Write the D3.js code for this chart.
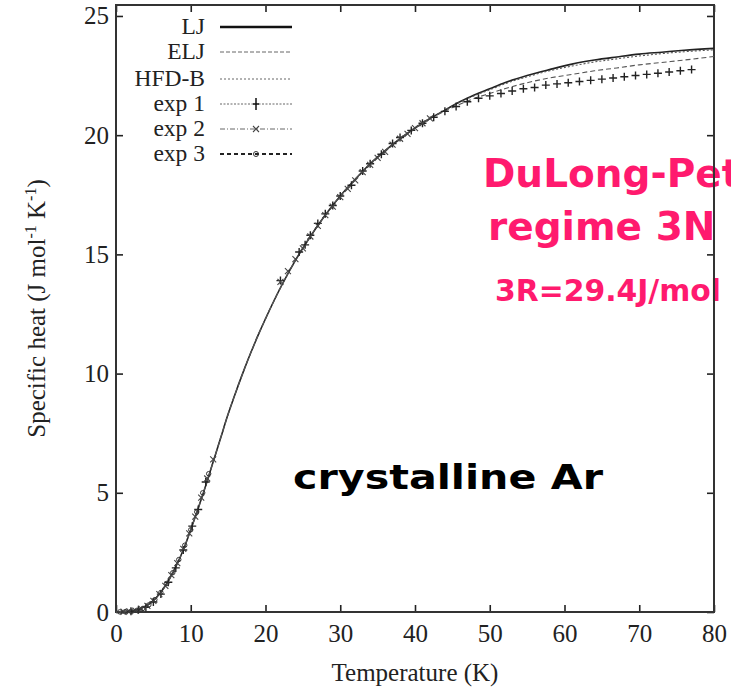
<!DOCTYPE html>
<html><head><meta charset="utf-8">
<script src="https://cdn.jsdelivr.net/npm/d3@7"></script>
<style>html,body{margin:0;padding:0;background:#fff;overflow:hidden}</style>
</head><body>
<svg id="c" width="731" height="690"></svg>
<script>
// ---- data ----
const xTicks = [0,10,20,30,40,50,60,70,80];
const yTicks = [0,5,10,15,20,25];
const theoryT = [0,1,2,3,4,5,6,7,8,9,10,11,12,13,14,15,16,17,18,19,20,22,24,26,28,30,32,34,36,38,40,42,44,46,48,50,52,55,58,61,64,67,70,73,76,80];
const ljC    = [0,0.01,0.04,0.11,0.25,0.48,0.83,1.3,1.9,2.6,3.45,4.35,5.3,6.3,7.3,8.3,9.2,10.05,10.85,11.6,12.3,13.6,14.75,15.75,16.65,17.45,18.15,18.8,19.35,19.85,20.3,20.7,21.05,21.4,21.7,21.95,22.2,22.5,22.75,22.98,23.15,23.28,23.4,23.48,23.56,23.64];
const eljC   = [0,0.01,0.04,0.11,0.25,0.48,0.83,1.3,1.9,2.6,3.45,4.35,5.3,6.3,7.3,8.3,9.2,10.05,10.85,11.6,12.3,13.6,14.75,15.75,16.65,17.45,18.15,18.8,19.35,19.85,20.3,20.7,21.0,21.3,21.55,21.75,21.95,22.2,22.4,22.55,22.7,22.82,22.95,23.05,23.15,23.3];
const hfdC   = [0,0.01,0.04,0.11,0.25,0.48,0.83,1.3,1.9,2.6,3.45,4.35,5.3,6.3,7.3,8.3,9.2,10.05,10.85,11.6,12.3,13.6,14.75,15.75,16.65,17.45,18.15,18.8,19.35,19.85,20.3,20.7,21.05,21.38,21.66,21.9,22.15,22.45,22.7,22.9,23.07,23.2,23.32,23.42,23.5,23.58];
const exp1 = [[2,0.03],[3,0.09],[4,0.2],[5,0.42],[6,0.75],[7,1.25],[8,1.85],[9,2.6],[10.2,3.6],[11,4.3],[12,5.45],[22,13.9],[24.5,15.1],[25.3,15.4],[26,15.8],[27,16.3],[28,16.7],[29,17.05],[30,17.45],[31.5,17.9],[33,18.5],[34,18.8],[35.5,19.2],[37,19.65],[38,19.9],[39.5,20.2],[41,20.5],[42.5,20.75],[44,21.0],[45.5,21.2],[47,21.4],[48.5,21.55],[50,21.65],[51.5,21.75],[53,21.85],[54.5,21.95],[56,22.0],[57.5,22.1],[59,22.15],[60.5,22.2],[62,22.25],[63.5,22.3],[65,22.35],[66.5,22.4],[68,22.45],[69.5,22.5],[71,22.55],[72.5,22.6],[74,22.65],[75.5,22.7],[77,22.75]];
const exp2 = [[1,0.01],[1.8,0.03],[2.6,0.06],[3.4,0.13],[4.2,0.26],[5,0.47],[5.8,0.75],[6.6,1.1],[7.4,1.55],[8.2,2.05],[9,2.65],[9.8,3.3],[10.6,4.0],[11.4,4.8],[12.2,5.6],[13,6.4],[22,13.85],[23,14.3],[24,14.8],[25,15.25],[26,15.75],[27,16.2],[28,16.65],[29,17.0],[30,17.4],[31,17.75],[32,18.1],[33,18.45],[34,18.75],[35,19.05],[36,19.3],[37,19.6],[38,19.85],[39,20.05],[40,20.3],[41,20.5],[42,20.7]];
const exp3 = [[0.5,0.005],[1.2,0.01],[2,0.03],[2.8,0.07],[3.6,0.15],[4.4,0.3],[5.2,0.52],[6,0.82],[6.8,1.2],[7.6,1.65],[8.4,2.2],[9.2,2.8],[10,3.45],[10.8,4.2],[11.6,5.0],[12.4,5.8]];
const legendLabels = ["LJ","ELJ","HFD-B","exp 1","exp 2","exp 3"];

// ---- layout ----
const svg = d3.select("#c");
const L = 116, R = 714, T = 5, B = 612;
const x = d3.scaleLinear().domain([0,80]).range([L,R]);
const y = d3.scaleLinear().domain([0,25.46]).range([B,T]);
const serif = "'Liberation Serif','DejaVu Serif',serif";
const sans = "'DejaVu Sans','Noto Sans',sans-serif";

// annotation texts (under frame)
const pink = "#ff1a6e";
svg.append("text").attr("x",483).attr("y",187).attr("font-family",sans).attr("font-weight","bold")
  .attr("font-size",39).attr("fill",pink).text("DuLong-Pet");
svg.append("text").attr("x",488).attr("y",240).attr("font-family",sans).attr("font-weight","bold")
  .attr("font-size",39).attr("fill",pink).text("regime 3N");
svg.append("text").attr("x",495).attr("y",301).attr("font-family",sans).attr("font-weight","bold")
  .attr("font-size",30).attr("fill",pink).attr("textLength",226).attr("lengthAdjust","spacingAndGlyphs").text("3R=29.4J/mol");
svg.append("text").attr("x",293).attr("y",489).attr("font-family",sans).attr("font-weight","bold")
  .attr("font-size",33).attr("fill","#000").attr("textLength",310).attr("lengthAdjust","spacingAndGlyphs").text("crystalline Ar");

// axes
function styleAxis(g, labels){
  g.select(".domain").remove();
  g.selectAll(".tick line").attr("stroke","#222").attr("stroke-width",1.6);
  g.selectAll(".tick text").attr("font-family",serif).attr("font-size",25).attr("fill","#222");
  if(!labels) g.selectAll(".tick text").remove();
}
svg.append("g").attr("transform",`translate(0,${B})`)
  .call(d3.axisBottom(x).tickValues(xTicks).tickSizeInner(-7).tickSizeOuter(0).tickPadding(12))
  .call(g=>styleAxis(g,true));
svg.append("g").attr("transform",`translate(0,${T})`)
  .call(d3.axisTop(x).tickValues(xTicks).tickSizeInner(-7).tickSizeOuter(0))
  .call(g=>styleAxis(g,false));
svg.append("g").attr("transform",`translate(${L},0)`)
  .call(d3.axisLeft(y).tickValues(yTicks).tickSizeInner(-7).tickSizeOuter(0).tickPadding(7))
  .call(g=>styleAxis(g,true));
svg.append("g").attr("transform",`translate(${R},0)`)
  .call(d3.axisRight(y).tickValues(yTicks).tickSizeInner(-7).tickSizeOuter(0))
  .call(g=>styleAxis(g,false));

// frame
svg.append("rect").attr("x",L).attr("y",T).attr("width",R-L).attr("height",B-T)
  .attr("fill","none").attr("stroke","#333").attr("stroke-width",2);

// axis titles
svg.append("text").attr("x",(L+R)/2).attr("y",681).attr("text-anchor","middle")
  .attr("font-family",serif).attr("font-size",25).attr("fill","#222").text("Temperature (K)");
const yl = svg.append("text").attr("transform",`translate(45,${(T+B)/2}) rotate(-90)`).attr("text-anchor","middle")
  .attr("font-family",serif).attr("font-size",25).attr("fill","#222");
yl.append("tspan").text("Specific heat (J mol");
yl.append("tspan").attr("font-size",16).attr("dy",-9).text("-1");
yl.append("tspan").attr("dy",9).text(" K");
yl.append("tspan").attr("font-size",16).attr("dy",-9).text("-1");
yl.append("tspan").attr("dy",9).text(")");

// curves
const line = d3.line().x(d=>x(d[0])).y(d=>y(d[1])).curve(d3.curveMonotoneX);
const series = [
  {c:ljC, stroke:"#222", w:1.6, dash:null},
  {c:eljC, stroke:"#555", w:1.1, dash:"5,3"},
  {c:hfdC, stroke:"#555", w:1.1, dash:"2,2"}
];
series.forEach(s=>{
  svg.append("path").datum(theoryT.map((t,i)=>[t,s.c[i]])).attr("d",line)
    .attr("fill","none").attr("stroke",s.stroke).attr("stroke-width",s.w)
    .attr("stroke-dasharray",s.dash);
});

// markers
const plus = "M-4,0H4M0,-4V4";
const cross = "M-3,-3L3,3M-3,3L3,-3";
svg.append("g").selectAll("path").data(exp1).join("path")
  .attr("transform",d=>`translate(${x(d[0])},${y(d[1])})`).attr("d",plus)
  .attr("stroke","#222").attr("stroke-width",1.4).attr("fill","none");
svg.append("g").selectAll("path").data(exp2).join("path")
  .attr("transform",d=>`translate(${x(d[0])},${y(d[1])})`).attr("d",cross)
  .attr("stroke","#444").attr("stroke-width",1.1).attr("fill","none");
svg.append("g").selectAll("circle").data(exp3).join("circle")
  .attr("cx",d=>x(d[0])).attr("cy",d=>y(d[1])).attr("r",2.2)
  .attr("stroke","#333").attr("stroke-width",1).attr("fill","none");

// legend
const legY = [27,52,79,104,129,154];
const legStyles = [
  {w:2.4, dash:null, stroke:"#111"},
  {w:1, dash:"4,2", stroke:"#666"},
  {w:1, dash:"2,2", stroke:"#666"},
  {w:1, dash:"2,1.5", stroke:"#666"},
  {w:1, dash:"5,2,1,2", stroke:"#666"},
  {w:1.8, dash:"4,3", stroke:"#222"}
];
const leg = svg.append("g");
legendLabels.forEach((lab,i)=>{
  leg.append("text").attr("x",205).attr("y",legY[i]+7).attr("text-anchor","end")
    .attr("font-family",serif).attr("font-size",23.5).attr("fill","#222").text(lab);
  leg.append("line").attr("x1",220).attr("x2",292).attr("y1",legY[i]).attr("y2",legY[i])
    .attr("stroke",legStyles[i].stroke).attr("stroke-width",legStyles[i].w).attr("stroke-dasharray",legStyles[i].dash);
});
leg.append("path").attr("transform",`translate(256,${legY[3]})`).attr("d","M-3,0H3M0,-6V6").attr("stroke","#111").attr("stroke-width",1.5);
leg.append("path").attr("transform",`translate(256,${legY[4]})`).attr("d",cross).attr("stroke","#444").attr("stroke-width",1.1);
leg.append("circle").attr("cx",256).attr("cy",legY[5]).attr("r",2.5).attr("fill","none").attr("stroke","#333").attr("stroke-width",1);
</script>
</body></html>
